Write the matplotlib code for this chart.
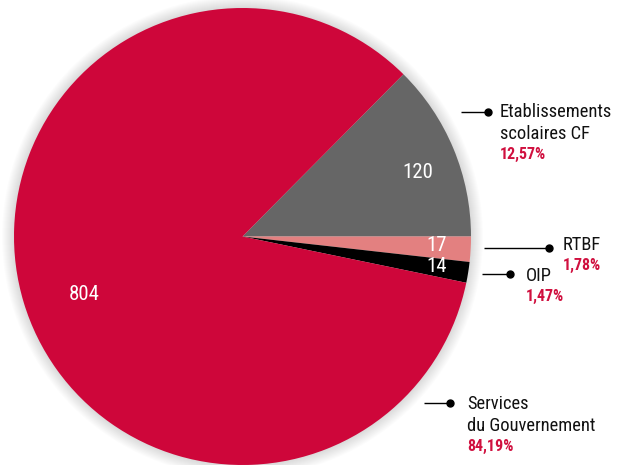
import matplotlib
matplotlib.use("Agg")
import matplotlib.pyplot as plt
from matplotlib.patches import Circle

plt.rcParams['font.family'] = ['Roboto Condensed', 'DejaVu Sans']

categories = ["Etablissements\nscolaires CF", "RTBF", "OIP", "Services\ndu Gouvernement"]
values = [120, 17, 14, 804]
percent_labels = ["12,57%", "1,78%", "1,47%", "84,19%"]
colors = ["#666666", "#E38080", "#000000", "#CE063A"]

W, H = 621, 465
fig = plt.figure(figsize=(W / 100, H / 100), dpi=100)
ax = fig.add_axes([0, 0, 1, 1])

def py(y):
    return H - y

cx, cy, R = 242.5, py(236.5), 228.5

# soft shadow
for i in range(12):
    ax.add_patch(Circle((cx, cy), R + 12 - i, color='black', alpha=0.012, lw=0, zorder=0))

total = sum(values)
start = 360 * values[0] / total
ax.pie(values, colors=colors, startangle=start, counterclock=False,
       center=(cx, cy), radius=R, frame=True,
       wedgeprops=dict(linewidth=0, zorder=1))
ax.set_xlim(0, W)
ax.set_ylim(0, H)
ax.set_aspect('equal')
ax.axis('off')

# inner value labels
inner_pos = [(418, 173), (437, 246), (437, 266), (84, 295)]
for v, (x, y) in zip(values, inner_pos):
    ax.text(x, py(y), str(v), color='white', fontsize=15, ha='center', va='center', zorder=3)

# leader lines and outer labels
leaders = [(461, 488, 112), (484, 549, 248), (482, 510, 274), (424, 450, 403)]
text_pos = [(500, 112), (563, 245), (526, 276), (467, 404)]
line_gap = 22
for cat, pct, (x0, x1, ly), (tx, ty) in zip(categories, percent_labels, leaders, text_pos):
    ax.plot([x0, x1], [py(ly), py(ly)], color='black', lw=1, zorder=3, solid_capstyle='butt')
    ax.plot([x1], [py(ly)], 'o', color='black', ms=5, zorder=3)
    lines = cat.split("\n")
    for k, t in enumerate(lines):
        ax.text(tx, py(ty + k * line_gap), t, color='#111111', fontsize=13.3,
                ha='left', va='center', zorder=3)
    ax.text(tx, py(ty + len(lines) * line_gap - 2), pct, color='#D0103F', fontsize=11.5,
            fontweight='bold', ha='left', va='center', zorder=3)

fig.savefig("out.png", dpi=100)
